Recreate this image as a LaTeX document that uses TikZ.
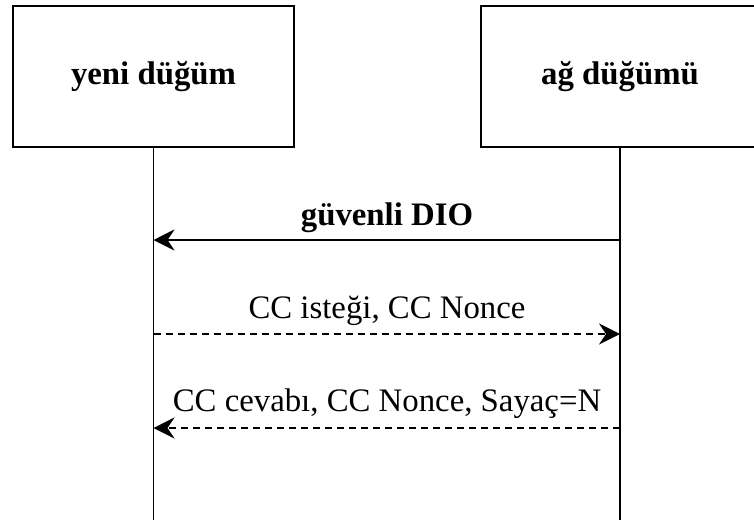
\documentclass[tikz,border=0pt]{standalone}
\usepackage{fontspec}
\setmainfont{Liberation Serif}
\usetikzlibrary{arrows.meta}

\newcommand\msgsize{\fontsize{16.4}{19}\selectfont}

\tikzset{
  actor/.style={draw, line width=1pt, minimum height=70.5pt, inner sep=0pt,
    font=\msgsize\bfseries},
  lifeline/.style={line width=0.85pt},
  msg/.style={line width=0.85pt, -{Stealth[length=10.5pt,width=10.5pt,inset=3.5pt]}},
  reply/.style={msg, dash pattern=on 3.5pt off 2.5pt},
}

\begin{document}
\begin{tikzpicture}[x=0.5pt, y=-0.5pt, font=\msgsize]
    \useasboundingbox (0,0) rectangle (754,525);

    \node[actor, minimum width=140.5pt] (yeni) at (153.5,76.5) {yeni düğüm};
    \node[actor, minimum width=139pt] (ag) at (620,76.5) {ağ düğümü};

    \coordinate (yeniend) at (153.5,520);
    \coordinate (agend) at (620,520);
    \draw[lifeline] (yeni) -- (yeniend);
    \draw[lifeline] (ag) -- (agend);

    % message 1
    \coordinate (dioag) at (620,240);
    \coordinate (dioyeni) at (153.5,240);
    \draw[msg] (dioag) -- (dioyeni);
    \node[anchor=base, font=\msgsize\bfseries] (dio) at (387,225) {güvenli DIO};

    % message 2
    \coordinate (istyeni) at (153.5,334);
    \coordinate (istag) at (620,334);
    \draw[reply] (istyeni) -- (istag);
    \node[anchor=base] (ist) at (387,318.5) {CC isteği, CC Nonce};

    % message 3
    \coordinate (cevag) at (620,428);
    \coordinate (cevyeni) at (153.5,428);
    \draw[reply] (cevag) -- (cevyeni);
    \node[anchor=base] (cev) at (387,411.5) {CC cevabı, CC Nonce, Sayaç=N};
\end{tikzpicture}
\end{document}
